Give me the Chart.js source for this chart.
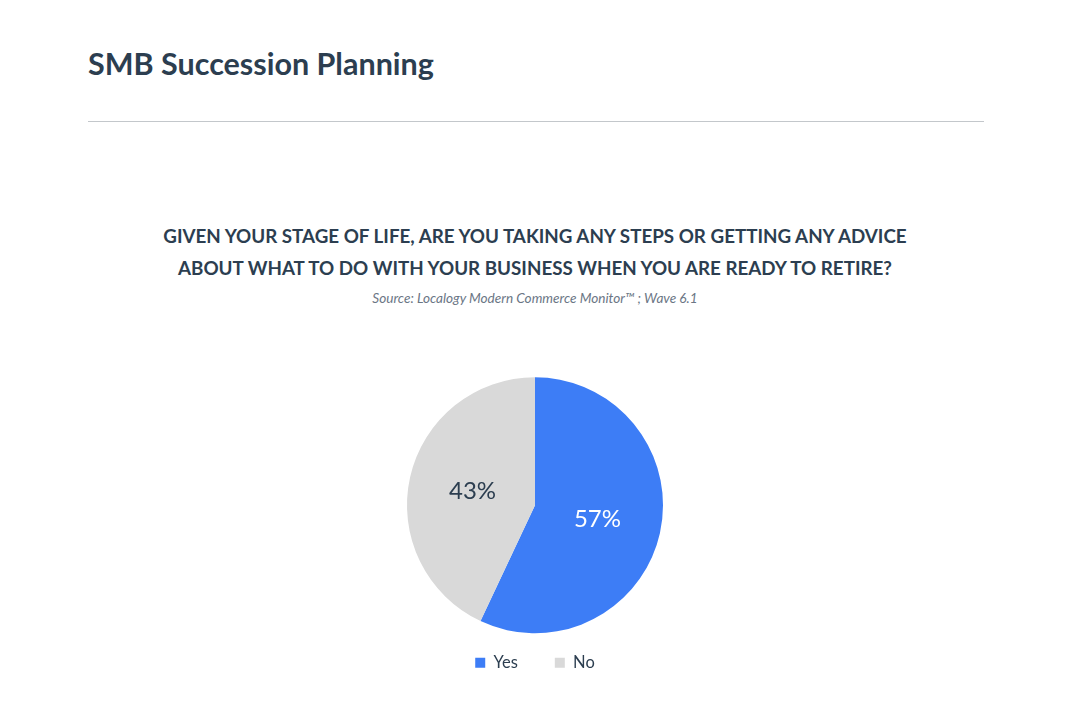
<!DOCTYPE html>
<html>
<head>
<meta charset="utf-8">
<script src="https://cdn.jsdelivr.net/npm/chart.js@4/dist/chart.umd.min.js"></script>
<style>
  body { margin: 0; background: #fff; font-family: Lato, sans-serif; color: #2c3e50; }
  #page { position: relative; width: 1066px; height: 722px; }
  #heading { position: absolute; left: 88px; top: 43px; line-height: 40px; font-size: 30.5px; font-weight: 700; }
  #rule { position: absolute; left: 88px; top: 121px; width: 896px; height: 0; border-top: 1px solid #c3c7cb; }
  #question { position: absolute; left: 35px; width: 1000px; top: 220px; text-align: center; font-size: 18.8px; font-weight: 700; line-height: 32px; }
  #source { position: absolute; left: 35px; width: 1000px; top: 290px; text-align: center; font-size: 13.6px; font-style: italic; color: #6b7685; line-height: 16px; }
  #chartBox { position: absolute; left: 335px; top: 353px; width: 400px; height: 328px; }
</style>
</head>
<body>
<div id="page">
  <div id="heading">SMB Succession Planning</div>
  <div id="rule"></div>
  <div id="question">GIVEN YOUR STAGE OF LIFE, ARE YOU TAKING ANY STEPS OR GETTING ANY ADVICE<br>ABOUT WHAT TO DO WITH YOUR BUSINESS WHEN YOU ARE READY TO RETIRE?</div>
  <div id="source">Source: Localogy Modern Commerce Monitor™ ; Wave 6.1</div>
  <div id="chartBox"><canvas id="pieChart"></canvas></div>
</div>
<script>
var labels = ['Yes', 'No'];
var shares = [57, 43];
var sliceColors = ['#3d7df6', '#d9d9d9'];
var labelColors = ['#ffffff', '#2c3e50'];

// percent labels in the middle of each slice
var sliceLabels = {
  id: 'sliceLabels',
  afterDatasetsDraw: function(chart) {
    var ctx = chart.ctx;
    var meta = chart.getDatasetMeta(0);
    ctx.save();
    ctx.font = '24px Lato';
    ctx.textAlign = 'center';
    ctx.textBaseline = 'middle';
    meta.data.forEach(function(arc, i) {
      var pos = arc.tooltipPosition();
      ctx.fillStyle = labelColors[i];
      ctx.fillText(shares[i] + '%', pos.x, pos.y);
    });
    ctx.restore();
  }
};

Chart.defaults.font.family = 'Lato';
var ctx = document.getElementById('pieChart').getContext('2d');
var pieChart = new Chart(ctx, {
  type: 'pie',
  data: {
    labels: labels,
    datasets: [
      {
        data: shares,
        backgroundColor: sliceColors,
        borderWidth: 0,
        radius: 128,
      },
    ],
  },
  options: {
    responsive: true,
    maintainAspectRatio: false,
    animation: false,
    layout: { padding: { top: 40 } },
    plugins: {
      tooltip: { enabled: false },
      legend: {
        position: 'bottom',
        labels: {
          boxWidth: 10,
          boxHeight: 10,
          padding: 37,
          color: '#2c3e50',
          font: { size: 16.5 },
        },
      },
    },
  },
  plugins: [sliceLabels],
});
</script>
</body>
</html>
